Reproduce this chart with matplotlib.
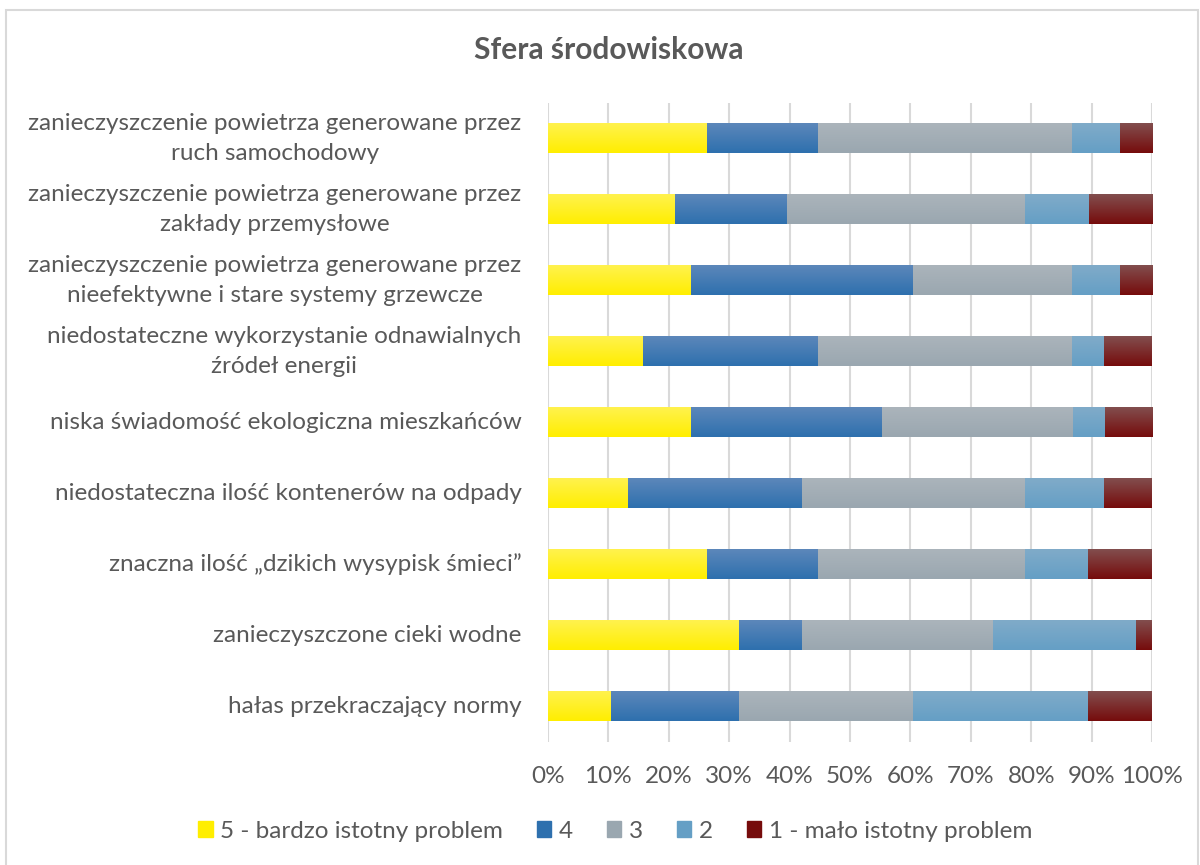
import numpy as np
import matplotlib.pyplot as plt
from matplotlib.colors import to_rgb
from matplotlib.patches import Rectangle

categories = [
    'zanieczyszczenie powietrza generowane przez\nruch samochodowy',
    'zanieczyszczenie powietrza generowane przez\nzakłady przemysłowe',
    'zanieczyszczenie powietrza generowane przez\nnieefektywne i stare systemy grzewcze',
    'niedostateczne wykorzystanie odnawialnych\nźródeł energii',
    'niska świadomość ekologiczna mieszkańców',
    'niedostateczna ilość kontenerów na odpady',
    'znaczna ilość „dzikich wysypisk śmieci”',
    'zanieczyszczone cieki wodne',
    'hałas przekraczający normy',
]

series_names = ['5 - bardzo istotny problem', '4', '3', '2', '1 - mało istotny problem']

# shares in percent
s5 = [26.3, 21.1, 23.7, 15.8, 23.7, 13.2, 26.3, 31.6, 10.5]
s4 = [18.4, 18.4, 36.8, 28.9, 31.6, 28.9, 18.4, 10.5, 21.1]
s3 = [42.1, 39.5, 26.3, 42.1, 31.6, 36.8, 34.2, 31.6, 28.9]
s2 = [7.9, 10.5, 7.9, 5.3, 5.3, 13.2, 10.5, 23.7, 28.9]
s1 = [5.3, 10.5, 5.3, 7.9, 7.9, 7.9, 10.5, 2.6, 10.5]

# gradient colours (top, bottom)
grads = [('#fff24e', '#ffee00'),
         ('#5c87ba', '#2e70ae'),
         ('#abb4bb', '#9aa7b0'),
         ('#80abc9', '#659fc5'),
         ('#824e4e', '#760c0c')]

txt = '#595959'
plt.rcParams['font.family'] = ['Lato', 'DejaVu Sans']

fig = plt.figure(figsize=(12, 8.65), dpi=100)
ax = fig.add_axes([548 / 1200, 123 / 865, 604 / 1200, 639 / 865])

y = np.arange(len(categories))
h = 0.42
left = np.zeros(len(categories))
handles = []
for vals, name, (c_top, c_bot) in zip([s5, s4, s3, s2, s1], series_names, grads):
    bars = ax.barh(y, vals, left=left, height=h, color=c_bot, label=name, zorder=2)
    handles.append(bars)
    t, b = np.array(to_rgb(c_top)), np.array(to_rgb(c_bot))
    img = np.linspace(0, 1, 50)[:, None, None] * (b - t) + t
    for p in bars.patches:
        x0, y0 = p.get_x(), p.get_y()
        ax.imshow(img, extent=(x0, x0 + p.get_width(), y0 + p.get_height(), y0),
                  origin='upper', aspect='auto', zorder=3, interpolation='bilinear')
    left += np.array(vals)

ax.set_xlim(0, 100)
ax.set_ylim(len(categories) - 0.5, -0.5)
ax.set_xticks(np.arange(0, 101, 10))
ax.set_xticklabels([f'{v}%' for v in range(0, 101, 10)])
ax.set_yticks(y)
ax.set_yticklabels(categories, multialignment='center', linespacing=1.5, va='center')
ax.tick_params(length=0, labelsize=17.5, colors=txt)
ax.tick_params(axis='x', pad=17)
ax.tick_params(axis='y', pad=19)
ax.grid(axis='x', color='#d9d9d9', lw=1.5, zorder=0)
for s in ax.spines.values():
    s.set_visible(False)

fig.text(0.507, 1 - 50 / 865, 'Sfera środowiskowa', ha='center', va='center',
         fontsize=21.5, fontweight='bold', color=txt)

leg = fig.legend(handles=handles, labels=series_names, loc='center',
                 bbox_to_anchor=(0.5125, 1 - 831 / 865), ncol=5, frameon=False,
                 fontsize=17.5, handlelength=0.6, handleheight=0.6,
                 handletextpad=0.3, columnspacing=1.4, labelcolor=txt)
for hnd, (c_top, c_bot) in zip(leg.legend_handles, grads):
    hnd.set_color(c_bot)

fig.patches.append(Rectangle((6 / 1200, -0.01), 1192 / 1200, 1 - 10 / 865 + 0.01,
                             transform=fig.transFigure, fill=False,
                             ec='#d9d9d9', lw=1.5))

fig.savefig('out.png', dpi=100)
